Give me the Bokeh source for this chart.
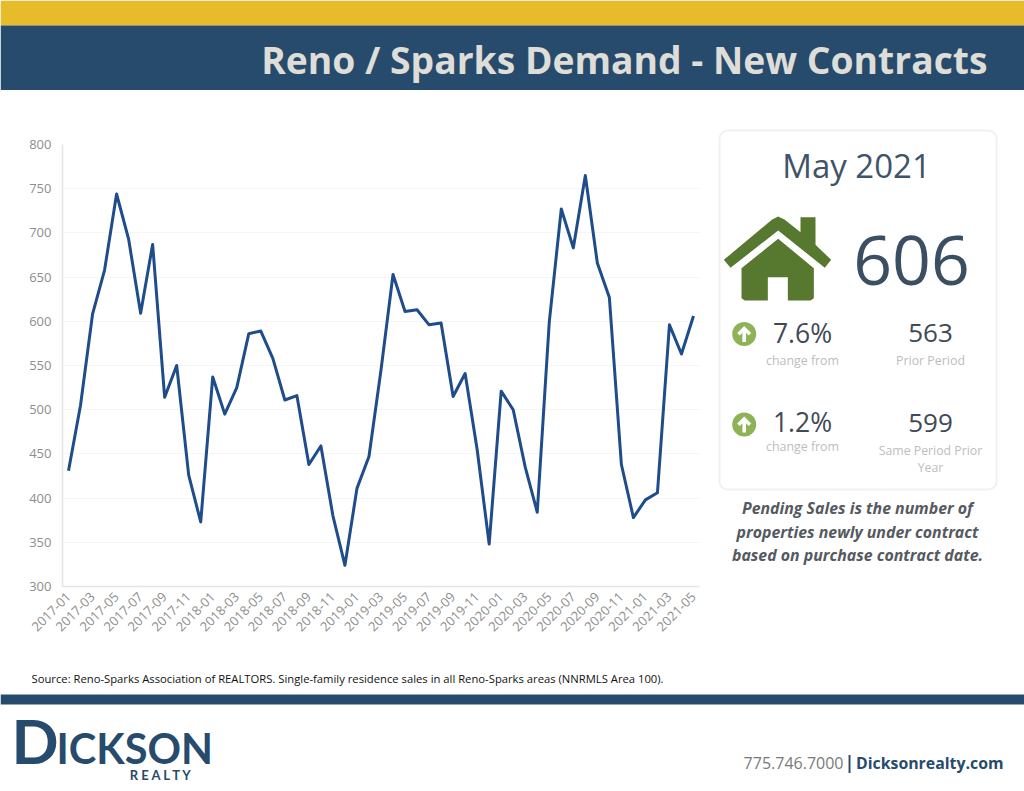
from bokeh.plotting import figure
from bokeh.layouts import column, row
from bokeh.models import Range1d, FixedTicker
from bokeh.embed import file_html
from bokeh.resources import INLINE
from bokeh.core.properties import value

# ---- data ----
months = [f"{y}-{m:02d}" for y in range(2017, 2021) for m in range(1, 13)] + [f"2021-{m:02d}" for m in range(1, 6)]
contracts = [431, 505, 608, 658, 744, 693, 609, 687, 514, 550, 426, 373,
             537, 495, 525, 586, 589, 558, 511, 516, 438, 459, 380, 324,
             411, 447, 545, 653, 611, 613, 596, 598, 515, 541, 455, 348,
             521, 500, 435, 384, 599, 727, 683, 765, 666, 627, 438, 378,
             398, 406, 596, 563, 606]
y_ticks = [300, 350, 400, 450, 500, 550, 600, 650, 700, 750, 800]

NAVY = "#264B6C"
GOLD = "#E6BC2B"
FONT = "Open Sans"


def page_fig(x0, x1, y0, y1):
    """Figure whose data coordinates are page pixels."""
    f = figure(width=x1 - x0, height=y1 - y0, x_range=Range1d(x0, x1), y_range=Range1d(y1, y0),
               output_backend="svg", toolbar_location=None, min_border=0,
               outline_line_color=None, background_fill_color="white", border_fill_color="white")
    f.axis.visible = False
    f.grid.visible = False
    return f


def txt(f, x, y, s, size, color, align="center", style="normal", font=FONT):
    f.text([x], [y], text=[s], text_font=value(font), text_font_size=f"{size}px", text_color=color,
           text_align=align, text_baseline="middle", text_font_style=style)


# ---- header ----
head = page_fig(0, 1024, 0, 90)
head.quad(left=[0], right=[1024], top=[0], bottom=[25], fill_color=GOLD, line_color=None)
head.quad(left=[0], right=[1024], top=[25], bottom=[90], fill_color=NAVY, line_color=None)
txt(head, 987, 59, "Reno / Sparks Demand - New Contracts", 37.25, "#DEDDD8", "right", "bold")

# ---- chart ----
chart = figure(width=712, height=570, x_range=Range1d(-0.5, 52.5), y_range=Range1d(300, 800),
               output_backend="svg", toolbar_location=None, outline_line_color=None,
               min_border_left=62, min_border_right=13, min_border_top=54, min_border_bottom=74,
               background_fill_color="white", border_fill_color="white")
chart.line(list(range(len(contracts))), contracts, line_color="#1F4C8A", line_width=3, line_join="round")
chart.xgrid.visible = False
chart.ygrid.grid_line_color = "#F5F5F3"
chart.ygrid.ticker = FixedTicker(ticks=y_ticks)
chart.yaxis.ticker = FixedTicker(ticks=y_ticks)
chart.xaxis.ticker = FixedTicker(ticks=list(range(0, len(months), 2)))
chart.xaxis.major_label_overrides = {i: months[i] for i in range(len(months))}
chart.xaxis.major_label_orientation = 0.785
for ax in (chart.xaxis[0], chart.yaxis[0]):
    ax.axis_line_color = "#E4E4E4"
    ax.axis_line_width = 1.5
    ax.major_tick_line_color = None
    ax.minor_tick_line_color = None
    ax.major_label_text_color = "#8E8E8E"
    ax.major_label_text_font = FONT
    ax.major_label_text_font_size = "13px"
    ax.major_label_text_font_style = "normal"
chart.yaxis.major_label_standoff = 5
chart.xaxis.major_label_standoff = 2

# ---- KPI panel ----
panel = page_fig(712, 1024, 90, 660)
panel.quad(left=[719], right=[996], top=[130], bottom=[489], fill_color="white",
           line_color="#F1F1F1", line_width=2, border_radius=8)
txt(panel, 856, 165, "May 2021", 33, "#3F5468")
txt(panel, 911, 260, "606", 68, "#3B4F63")

GREEN = "#56792F"
roof = [(40, 403), (185, 282), (203, 273), (222, 282), (270, 320), (270, 275), (315, 275), (315, 358),
        (362, 403), (343, 427), (203, 315), (60, 427)]
body = [(93, 428), (203, 340), (310, 428), (310, 518), (300, 525), (232, 525), (232, 455), (172, 455),
        (172, 525), (103, 525), (93, 518)]
for shape in (roof, body):
    panel.patch([710 + a / 3 for a, _ in shape], [125 + b / 3 for _, b in shape], fill_color=GREEN, line_color=None)

for cy in (333.5, 424):
    panel.circle([743.7], [cy], radius=12, fill_color="#8DB356", line_color=None)
    arrow = [(0, -8), (7, -1), (4.5, 1.5), (1.8, -1.2), (1.8, 8), (-1.8, 8), (-1.8, -1.2), (-4.5, 1.5), (-7, -1)]
    panel.patch([743.7 + a for a, _ in arrow], [cy + b for _, b in arrow], fill_color="white", line_color=None)

DK = "#3F4A56"
LT = "#BDBDBD"
txt(panel, 802, 332.5, "7.6%", 26.5, DK)
txt(panel, 802, 360, "change from", 12.4, LT)
txt(panel, 930, 332.5, "563", 26, DK)
txt(panel, 930, 360, "Prior Period", 12.4, LT)
txt(panel, 802, 421.5, "1.2%", 26.5, DK)
txt(panel, 802, 446, "change from", 12.4, LT)
txt(panel, 930, 422.5, "599", 26, DK)
txt(panel, 930, 450, "Same Period Prior", 12.3, LT)
txt(panel, 930, 467, "Year", 12.3, LT)
NOTE = "#555A60"
txt(panel, 857, 507, "Pending Sales is the number of", 15.9, NOTE, style="bold italic")
txt(panel, 857, 531, "properties newly under contract", 15.9, NOTE, style="bold italic")
txt(panel, 857, 554, "based on purchase contract date.", 15.9, NOTE, style="bold italic")

# ---- footer ----
foot = page_fig(0, 1024, 660, 791)
txt(foot, 31, 678, "Source: Reno-Sparks Association of REALTORS. Single-family residence sales in all Reno-Sparks areas (NNRMLS Area 100).",
    11.25, "#111111", "left")
foot.quad(left=[0], right=[1024], top=[694], bottom=[704], fill_color=NAVY, line_color=None)
txt(foot, 11, 739, "D", 62, NAVY, "left", "bold", font="Lato")
txt(foot, 56, 747, "ICKSON", 41.5, NAVY, "left", "bold", font="Lato")
txt(foot, 161, 774, "R E A L T Y", 13, NAVY, "center", "bold", font="Lato")
txt(foot, 843, 762, "775.746.7000", 16, "#7A7A7A", "right")
txt(foot, 849, 762, "|", 17, NAVY, "center", "bold")
txt(foot, 1003, 762, "Dicksonrealty.com", 15.85, NAVY, "right", "bold")

page = column(head, row(column(chart), column(panel), spacing=0), foot, spacing=0,
              styles={"position": "absolute", "left": "0px", "top": "0px"})
open("out.html", "w").write(file_html(page, INLINE))
